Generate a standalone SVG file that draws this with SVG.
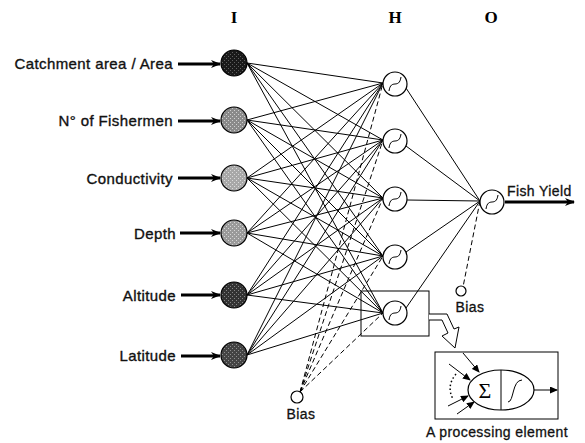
<svg xmlns="http://www.w3.org/2000/svg" width="585" height="443" viewBox="0 0 585 443">
<defs>
<marker id="ah" markerWidth="10" markerHeight="8" refX="9" refY="4" orient="auto" markerUnits="userSpaceOnUse"><path d="M0,0 L10,4 L0,8 L3,4 Z" fill="#000"/></marker>
<marker id="ahs" markerWidth="8" markerHeight="7" refX="7" refY="3.5" orient="auto" markerUnits="userSpaceOnUse"><path d="M0,0 L8,3.5 L0,7 Z" fill="#000"/></marker>
<pattern id="tex" width="4" height="4" patternUnits="userSpaceOnUse"><rect width="4" height="4" fill="none"/><rect x="0" y="0" width="1" height="1" fill="#fff"/><rect x="2" y="2" width="1" height="1" fill="#fff"/></pattern>
</defs>
<style>
.lbl{font-family:"Liberation Sans",Arial,sans-serif;font-size:15px;letter-spacing:0.4px;fill:#111;stroke:#111;stroke-width:0.35}
.sm{font-family:"Liberation Sans",Arial,sans-serif;font-size:14px;letter-spacing:0.4px;fill:#111;stroke:#111;stroke-width:0.3}
.hd{font-family:"Liberation Serif","Times New Roman",serif;font-size:17px;font-weight:bold;fill:#000}
.w{stroke:#000;stroke-width:1;fill:none}
.d{stroke:#000;stroke-width:1;fill:none;stroke-dasharray:5,3}
.inarr{stroke:#000;stroke-width:3;fill:none}
.node{stroke:#000;stroke-width:1.2}
.hid{fill:#fff;stroke:#000;stroke-width:1.2}
</style>
<text class="hd" x="234" y="23" text-anchor="middle">I</text>
<text class="hd" x="395" y="23" text-anchor="middle">H</text>
<text class="hd" x="491" y="23" text-anchor="middle">O</text>

<g id="connectors">
<g class="w">
<path d="M247,63 L383,83 M247,63 L383,140 M247,63 L383,198 M247,63 L383,256 M247,63 L383,313"/>
<path d="M247,120 L383,83 M247,120 L383,140 M247,120 L383,198 M247,120 L383,256 M247,120 L383,313"/>
<path d="M247,178 L383,83 M247,178 L383,140 M247,178 L383,198 M247,178 L383,256 M247,178 L383,313"/>
<path d="M247,233 L383,83 M247,233 L383,140 M247,233 L383,198 M247,233 L383,256 M247,233 L383,313"/>
<path d="M247,295 L383,83 M247,295 L383,140 M247,295 L383,198 M247,295 L383,256 M247,295 L383,313"/>
<path d="M247,355 L383,83 M247,355 L383,140 M247,355 L383,198 M247,355 L383,256 M247,355 L383,313"/>
<path d="M406,88 L480,201 M406,146 L480,201 M407,200 L480,201 M406,252 L480,201 M406,308 L480,201"/>
</g>
<g class="d">
<path d="M300,392 L383,83 M300,392 L383,140 M300,392 L383,198 M300,392 L383,256 M300,392 L383,313"/>
<path d="M480,201 L463,287"/>
</g>
<path class="inarr" d="M178,64 L220,64" marker-end="url(#ah)"/>
<path class="inarr" d="M178,121 L220,121" marker-end="url(#ah)"/>
<path class="inarr" d="M178,178 L220,178" marker-end="url(#ah)"/>
<path class="inarr" d="M180,233 L220,233" marker-end="url(#ah)"/>
<path class="inarr" d="M181,295 L220,295" marker-end="url(#ah)"/>
<path class="inarr" d="M181,356 L220,356" marker-end="url(#ah)"/>
<path class="inarr" d="M505,202 L574,202" marker-end="url(#ah)"/>
</g>

<g id="in1"><text class="lbl" x="173" y="69" text-anchor="end">Catchment area / Area</text><circle class="node" cx="234" cy="63" r="13" fill="#1a1a1a"/><circle cx="234" cy="63" r="12" fill="url(#tex)" opacity="0.3"/></g>
<g id="in2"><text class="lbl" x="173" y="126" text-anchor="end">N° of Fishermen</text><circle class="node" cx="234" cy="120" r="13" fill="#8a8a8a"/><circle cx="234" cy="120" r="12" fill="url(#tex)" opacity="0.6"/></g>
<g id="in3"><text class="lbl" x="173" y="184" text-anchor="end">Conductivity</text><circle class="node" cx="234" cy="178" r="13" fill="#a8a8a8"/><circle cx="234" cy="178" r="12" fill="url(#tex)" opacity="0.6"/></g>
<g id="in4"><text class="lbl" x="176" y="239" text-anchor="end">Depth</text><circle class="node" cx="234" cy="233" r="13" fill="#9a9a9a"/><circle cx="234" cy="233" r="12" fill="url(#tex)" opacity="0.6"/></g>
<g id="in5"><text class="lbl" x="176" y="301" text-anchor="end">Altitude</text><circle class="node" cx="234" cy="295" r="13" fill="#333"/><circle cx="234" cy="295" r="12" fill="url(#tex)" opacity="0.4"/></g>
<g id="in6"><text class="lbl" x="176" y="361" text-anchor="end">Latitude</text><circle class="node" cx="234" cy="355" r="13" fill="#444"/><circle cx="234" cy="355" r="12" fill="url(#tex)" opacity="0.4"/></g>

<g id="h1"><circle class="hid" cx="395" cy="84" r="12"/><path class="w" d="M389,91 C391,78 399,90 401,77"/></g>
<g id="h2"><circle class="hid" cx="395" cy="141" r="12"/><path class="w" d="M389,148 C391,135 399,147 401,134"/></g>
<g id="h3"><circle class="hid" cx="395" cy="199" r="12"/><path class="w" d="M389,206 C391,193 399,205 401,192"/></g>
<g id="h4"><circle class="hid" cx="395" cy="257" r="12"/><path class="w" d="M389,264 C391,251 399,263 401,250"/></g>
<g id="h5"><rect class="w" x="361" y="291" width="68" height="45"/><circle class="hid" cx="395" cy="313" r="12"/><path class="w" d="M389,320 C391,307 399,319 401,306"/></g>

<g id="out"><circle class="hid" cx="492" cy="202" r="12"/><path class="w" d="M486,209 C488,196 496,208 498,195"/><text class="sm" x="507" y="196">Fish Yield</text></g>

<g id="bias1"><circle class="hid" cx="297" cy="397" r="6"/><text class="sm" x="301" y="419" text-anchor="middle">Bias</text></g>
<g id="bias2"><circle class="hid" cx="461" cy="291" r="5"/><text class="sm" x="470" y="312" text-anchor="middle">Bias</text></g>

<g id="bigarrow"><path d="M429,314 L447,314 L454,329 L459,327 L455,348 L442,336 L448,333 L442,320 L429,320" fill="#fff" stroke="#000" stroke-width="1"/></g>

<g id="pe">
<rect class="w" x="435" y="352" width="123" height="67"/>
<ellipse class="hid" cx="501" cy="390" rx="33" ry="20"/>
<line class="w" x1="501" y1="370" x2="501" y2="410"/>
<text x="485" y="398" text-anchor="middle" font-family="Liberation Serif,serif" font-size="22" fill="#000">Σ</text>
<path class="w" d="M508,402 C514,402 512,380 522,380"/>
<path class="w" d="M534,390 L557,390" marker-end="url(#ahs)"/>
<path class="w" d="M463,353 L479,372" marker-end="url(#ahs)"/>
<path class="w" d="M449,364 L470,380" marker-end="url(#ahs)"/>
<path class="w" d="M448,406 L468,396" marker-end="url(#ahs)"/>
<path class="w" d="M457,414 L474,402" marker-end="url(#ahs)"/>
<path d="M456,374 Q446,386 453,399" fill="none" stroke="#000" stroke-width="1.5" stroke-dasharray="1.5,2.5"/>
<text class="sm" x="497" y="437" text-anchor="middle" font-size="13" letter-spacing="0">A processing element</text>
</g>
</svg>
